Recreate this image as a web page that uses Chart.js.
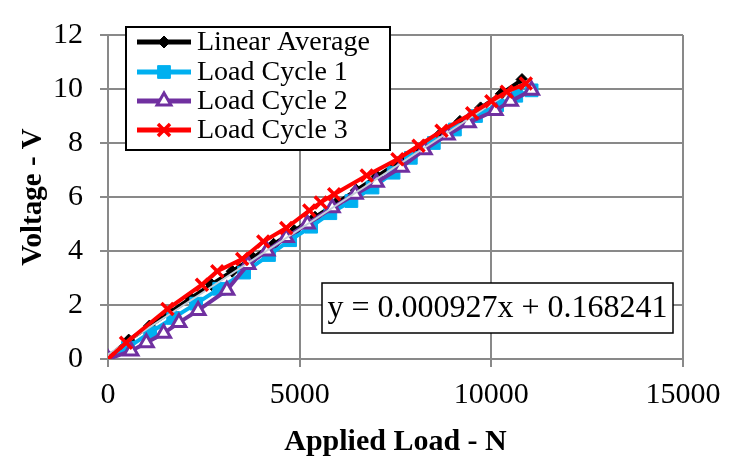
<!DOCTYPE html>
<html>
<head>
<meta charset="utf-8">
<script src="https://cdn.jsdelivr.net/npm/chart.js@4.4.1/dist/chart.umd.min.js"></script>
<style>
  html, body { margin: 0; padding: 0; background: #fff; }
  #wrap { width: 739px; height: 460px; position: relative; }
</style>
</head>
<body>
<div id="wrap"><canvas id="chart"></canvas></div>
<script>
// data
const avgLoad = [0, 540, 1080, 1620, 2160, 2700, 3240, 3780, 4320, 4860, 5400, 5940, 6480, 7020, 7560, 8100, 8640, 9180, 9720, 10260, 10800];
const avgVolt = [0.05, 0.7, 1.22, 1.73, 2.25, 2.76, 3.25, 3.75, 4.25, 4.75, 5.25, 5.75, 6.25, 6.76, 7.27, 7.78, 8.29, 8.8, 9.3, 9.82, 10.35];

const c1Load = [0, 520, 1100, 1700, 2300, 2900, 3550, 4200, 4750, 5300, 5800, 6350, 6900, 7450, 7900, 8500, 9050, 9600, 10150, 10650, 11050];
const c1Volt = [0.02, 0.42, 0.98, 1.52, 2.05, 2.6, 3.2, 3.85, 4.4, 4.9, 5.4, 5.85, 6.35, 6.9, 7.45, 8.0, 8.5, 9.0, 9.4, 9.75, 9.95];

const c2Load = [0, 600, 1000, 1450, 1850, 2350, 3100, 3650, 4150, 4650, 5200, 5850, 6450, 7000, 7650, 8250, 8850, 9400, 10100, 10500, 11050];
const c2Volt = [0.0, 0.3, 0.6, 0.95, 1.35, 1.8, 2.55, 3.5, 4.0, 4.5, 5.0, 5.6, 6.1, 6.55, 7.1, 7.75, 8.3, 8.75, 9.2, 9.55, 9.95];

const c3Load = [0, 470, 1550, 2450, 2850, 3500, 4050, 4650, 5250, 5550, 5900, 6750, 7550, 8100, 8700, 9500, 10000, 10400, 10900];
const c3Volt = [0.0, 0.6, 1.85, 2.75, 3.25, 3.7, 4.35, 4.85, 5.5, 5.8, 6.1, 6.8, 7.4, 7.9, 8.45, 9.1, 9.55, 9.9, 10.2];

// trendline end points
const trendLoad = [0, 11000];
const trendVolt = [0.17, 10.37];

const seriesNames = ['Linear Average', 'Load Cycle 1', 'Load Cycle 2', 'Load Cycle 3'];
const equationText = 'y = 0.000927x + 0.168241';
const xTicks = [0, 5000, 10000, 15000];
const yTicks = [0, 2, 4, 6, 8, 10, 12];

const SERIF = "'Liberation Serif', 'Times New Roman', serif";
const GRID = '#898989';

function pts(xs, ys) {
    return xs.map((x, i) => ({ x: x, y: ys[i] }));
}

const styles = [
    { color: '#000000', point: 'rectRot', radius: 6, fill: '#000000', bw: 1, order: 4 },
    { color: '#00b0f0', point: 'rect', radius: 9, fill: '#00b0f0', bw: 1, order: 3 },
    { color: '#7030a0', point: 'triangle', radius: 8, fill: '#ffffff', bw: 3, order: 2 },
    { color: '#ff0000', point: 'crossRot', radius: 8.5, fill: '#ff0000', bw: 3.5, order: 0 }
];
const seriesData = [pts(avgLoad, avgVolt), pts(c1Load, c1Volt), pts(c2Load, c2Volt), pts(c3Load, c3Volt)];

const datasets = seriesNames.map((name, i) => ({
    label: name,
    data: seriesData[i],
    showLine: true,
    borderColor: styles[i].color,
    borderWidth: 4,
    pointStyle: styles[i].point,
    pointRadius: styles[i].radius,
    pointBackgroundColor: styles[i].fill,
    pointBorderColor: styles[i].color,
    pointBorderWidth: styles[i].bw,
    tension: 0,
    order: styles[i].order
}));

datasets.push({
    label: 'trend',
    data: pts(trendLoad, trendVolt),
    showLine: true,
    borderColor: '#c3cdd8',
    borderWidth: 2,
    pointRadius: 0,
    order: 1
});

// legend box + equation box drawn inside plot
const overlayPlugin = {
    id: 'overlay',
    afterDatasetsDraw(chart) {
        const ctx = chart.ctx;
        ctx.save();

        // legend
        const lx = 126, ly = 27, lw = 264, lh = 123;
        ctx.fillStyle = '#fff';
        ctx.fillRect(lx, ly, lw, lh);
        ctx.strokeStyle = '#000';
        ctx.lineWidth = 2;
        ctx.strokeRect(lx, ly, lw, lh);
        const rows = [42, 72, 101, 130];
        seriesNames.forEach((name, i) => {
            const s = styles[i];
            const y = rows[i];
            ctx.strokeStyle = s.color;
            ctx.lineWidth = 5;
            ctx.beginPath();
            ctx.moveTo(137, y);
            ctx.lineTo(191, y);
            ctx.stroke();
            ctx.lineWidth = s.bw;
            ctx.fillStyle = s.fill;
            ctx.strokeStyle = s.color;
            Chart.helpers.drawPoint(ctx, { pointStyle: s.point, radius: s.radius, borderWidth: s.bw }, 164, y);
            ctx.fillStyle = '#000';
            ctx.font = '28px ' + SERIF;
            ctx.textBaseline = 'middle';
            ctx.textAlign = 'left';
            ctx.fillText(name, 197, y + 1);
        });

        // equation
        const ex = 322, ey = 283, ew = 351, eh = 50;
        ctx.fillStyle = '#fff';
        ctx.fillRect(ex, ey, ew, eh);
        ctx.strokeStyle = '#000';
        ctx.lineWidth = 1.5;
        ctx.strokeRect(ex, ey, ew, eh);
        ctx.fillStyle = '#000';
        ctx.font = '32px ' + SERIF;
        ctx.textAlign = 'center';
        ctx.textBaseline = 'middle';
        ctx.fillText(equationText, ex + ew / 2, ey + eh / 2 + 1);

        ctx.restore();
    }
};

new Chart(document.getElementById('chart'), {
    type: 'scatter',
    data: { datasets: datasets },
    options: {
        responsive: true,
        maintainAspectRatio: false,
        animation: false,
        layout: { padding: { top: 19, right: 56, left: 0, bottom: 0 } },
        plugins: {
            legend: { display: false },
            tooltip: { enabled: false }
        },
        scales: {
            x: {
                type: 'linear',
                min: 0,
                max: 15000,
                afterBuildTicks: (scale) => { scale.ticks = xTicks.map(v => ({ value: v })); },
                afterFit: (scale) => { scale.height = 101; },
                grid: { color: GRID, lineWidth: 2, tickLength: 8 },
                border: { color: GRID, width: 2 },
                ticks: {
                    color: '#000',
                    font: { family: SERIF, size: 30 },
                    padding: 10,
                    maxRotation: 0,
                    callback: (v) => String(v)
                },
                title: {
                    display: true,
                    text: 'Applied Load - N',
                    color: '#000',
                    font: { family: SERIF, size: 30, weight: 'bold' },
                    padding: { top: 0, bottom: 0 }
                }
            },
            y: {
                min: 0,
                max: 12,
                afterBuildTicks: (scale) => { scale.ticks = yTicks.map(v => ({ value: v })); },
                afterFit: (scale) => { scale.width = 108; },
                grid: { color: GRID, lineWidth: 2, tickLength: 8 },
                border: { color: GRID, width: 2 },
                ticks: {
                    color: '#000',
                    font: { family: SERIF, size: 30 },
                    padding: 17,
                    callback: (v) => String(v)
                },
                title: {
                    display: true,
                    text: 'Voltage - V',
                    color: '#000',
                    font: { family: SERIF, size: 29, weight: 'bold' },
                    padding: { top: 16, bottom: 0 }
                }
            }
        }
    },
    plugins: [overlayPlugin]
});
</script>
</body>
</html>
